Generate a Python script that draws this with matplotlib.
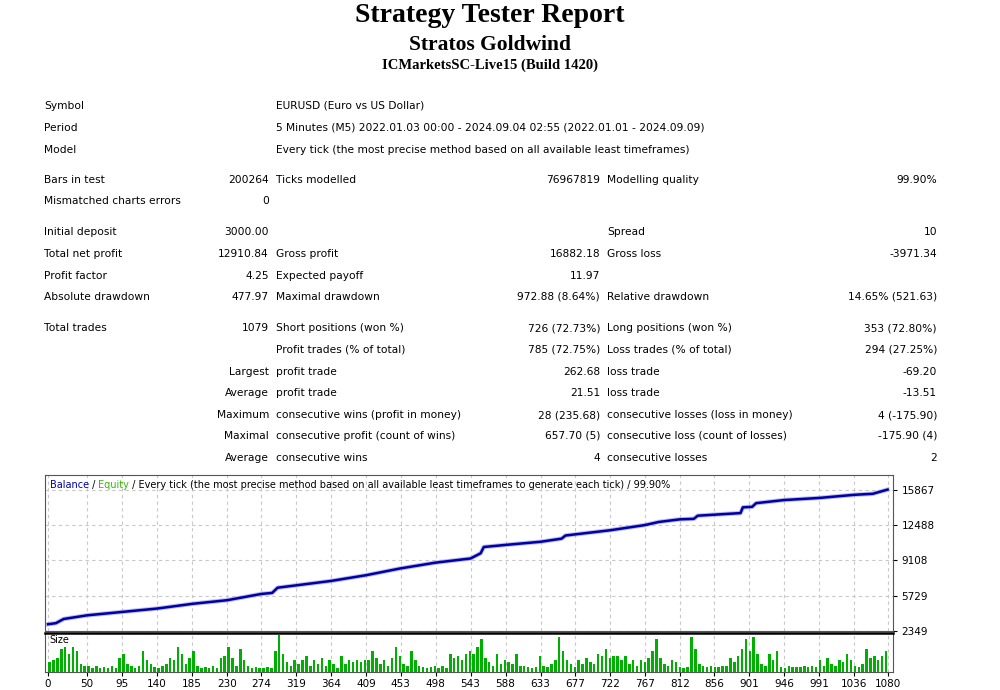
import matplotlib
matplotlib.use("Agg")
import matplotlib.pyplot as plt
import numpy as np
from matplotlib.offsetbox import TextArea, HPacker, AnchoredOffsetbox

# ---------------- data ----------------
bal_trades = [0, 10, 20, 50, 140, 185, 230, 274, 288, 295, 364, 409, 453, 498, 543, 556, 560,
              588, 633, 660, 665, 722, 767, 785, 812, 830, 835, 890, 893, 905, 910, 946, 991,
              1036, 1060, 1079]
bal_values = [3000, 3100, 3500, 3850, 4500, 4950, 5300, 5900, 6000, 6500, 7150, 7700, 8350,
              8900, 9300, 9800, 10400, 10600, 10900, 11200, 11500, 12000, 12500, 12800, 13050,
              13100, 13400, 13650, 14200, 14250, 14600, 14900, 15100, 15400, 15500, 15900]
size_values = [0.25,0.3,0.35,0.55,0.6,0.45,0.6,0.5,0.2,0.15,
               0.15,0.1,0.15,0.1,0.12,0.1,0.15,0.1,0.35,0.45,
               0.2,0.15,0.1,0.15,0.5,0.3,0.2,0.12,0.1,0.15,
               0.2,0.35,0.3,0.6,0.45,0.2,0.35,0.5,0.15,0.1,
               0.12,0.1,0.15,0.1,0.35,0.4,0.6,0.35,0.15,0.55,
               0.3,0.15,0.1,0.12,0.1,0.1,0.12,0.1,0.5,0.9,
               0.45,0.25,0.15,0.3,0.2,0.3,0.4,0.15,0.3,0.2,
               0.35,0.15,0.3,0.2,0.1,0.4,0.2,0.3,0.25,0.3,
               0.25,0.3,0.3,0.5,0.35,0.2,0.3,0.15,0.35,0.6,
               0.4,0.2,0.15,0.5,0.3,0.15,0.12,0.1,0.12,0.15,
               0.1,0.15,0.1,0.45,0.35,0.4,0.3,0.45,0.5,0.45,
               0.6,0.8,0.35,0.25,0.15,0.45,0.2,0.3,0.25,0.2,
               0.45,0.15,0.15,0.12,0.1,0.12,0.4,0.15,0.12,0.2,
               0.3,0.85,0.5,0.3,0.2,0.12,0.3,0.2,0.35,0.25,
               0.2,0.45,0.4,0.55,0.35,0.4,0.4,0.3,0.4,0.2,
               0.3,0.15,0.3,0.25,0.35,0.5,0.8,0.35,0.2,0.15,
               0.3,0.25,0.12,0.1,0.12,0.85,0.55,0.2,0.15,0.12,
               0.15,0.12,0.12,0.15,0.15,0.35,0.25,0.4,0.55,0.8,
               0.5,0.85,0.45,0.2,0.15,0.45,0.3,0.5,0.12,0.1,
               0.15,0.12,0.12,0.12,0.15,0.12,0.15,0.12,0.3,0.15,
               0.35,0.2,0.15,0.3,0.25,0.45,0.3,0.15,0.12,0.2,
               0.55,0.35,0.4,0.3,0.4,0.5]
y_ticks = [2349, 5729, 9108, 12488, 15867]
x_ticks = [0, 50, 95, 140, 185, 230, 274, 319, 364, 409, 453, 498, 543, 588, 633, 677, 722,
           767, 812, 856, 901, 946, 991, 1036, 1080]

rows = [
    (106, [(44, "Symbol", "left"), (276, "EURUSD (Euro vs US Dollar)", "left")]),
    (128, [(44, "Period", "left"), (276, "5 Minutes (M5) 2022.01.03 00:00 - 2024.09.04 02:55 (2022.01.01 - 2024.09.09)", "left")]),
    (150, [(44, "Model", "left"), (276, "Every tick (the most precise method based on all available least timeframes)", "left")]),
    (180, [(44, "Bars in test", "left"), (269, "200264", "right"), (276, "Ticks modelled", "left"),
           (600, "76967819", "right"), (607, "Modelling quality", "left"), (937, "99.90%", "right")]),
    (201, [(44, "Mismatched charts errors", "left"), (269, "0", "right")]),
    (232, [(44, "Initial deposit", "left"), (269, "3000.00", "right"), (607, "Spread", "left"), (937, "10", "right")]),
    (254, [(44, "Total net profit", "left"), (269, "12910.84", "right"), (276, "Gross profit", "left"),
           (600, "16882.18", "right"), (607, "Gross loss", "left"), (937, "-3971.34", "right")]),
    (276, [(44, "Profit factor", "left"), (269, "4.25", "right"), (276, "Expected payoff", "left"), (600, "11.97", "right")]),
    (297, [(44, "Absolute drawdown", "left"), (269, "477.97", "right"), (276, "Maximal drawdown", "left"),
           (600, "972.88 (8.64%)", "right"), (607, "Relative drawdown", "left"), (937, "14.65% (521.63)", "right")]),
    (328, [(44, "Total trades", "left"), (269, "1079", "right"), (276, "Short positions (won %)", "left"),
           (600, "726 (72.73%)", "right"), (607, "Long positions (won %)", "left"), (937, "353 (72.80%)", "right")]),
    (350, [(276, "Profit trades (% of total)", "left"), (600, "785 (72.75%)", "right"),
           (607, "Loss trades (% of total)", "left"), (937, "294 (27.25%)", "right")]),
    (372, [(269, "Largest", "right"), (276, "profit trade", "left"), (600, "262.68", "right"),
           (607, "loss trade", "left"), (937, "-69.20", "right")]),
    (393, [(269, "Average", "right"), (276, "profit trade", "left"), (600, "21.51", "right"),
           (607, "loss trade", "left"), (937, "-13.51", "right")]),
    (415, [(269, "Maximum", "right"), (276, "consecutive wins (profit in money)", "left"), (600, "28 (235.68)", "right"),
           (607, "consecutive losses (loss in money)", "left"), (937, "4 (-175.90)", "right")]),
    (436, [(269, "Maximal", "right"), (276, "consecutive profit (count of wins)", "left"), (600, "657.70 (5)", "right"),
           (607, "consecutive loss (count of losses)", "left"), (937, "-175.90 (4)", "right")]),
    (458, [(269, "Average", "right"), (276, "consecutive wins", "left"), (600, "4", "right"),
           (607, "consecutive losses", "left"), (937, "2", "right")]),
]

# ---------------- figure ----------------
W, H = 1000, 690
fig = plt.figure(figsize=(10, 6.9), dpi=100)
fig.patch.set_facecolor("white")

def fx(px): return px / W
def fy(py): return 1 - py / H

fig.text(0.49, fy(16), "Strategy Tester Report", ha="center", va="center",
         family="Liberation Serif", weight="bold", fontsize=20)
fig.text(0.49, fy(45), "Stratos Goldwind", ha="center", va="center",
         family="Liberation Serif", weight="bold", fontsize=15.5)
fig.text(0.49, fy(65), "ICMarketsSC-Live15 (Build 1420)", ha="center", va="center",
         family="Liberation Serif", weight="bold", fontsize=10.5)

for y, items in rows:
    for x, t, ha in items:
        fig.text(fx(x), fy(y), t, ha=ha, va="center", family="DejaVu Sans", fontsize=7.7)

xlim = (-4, 1086)
ax = fig.add_axes([fx(45), fy(631), fx(848), 156 / H])
ax.plot(bal_trades, bal_values, color="#a0a0e0", lw=3.2, alpha=0.7)
ax.plot(bal_trades, bal_values, color="#0000a8", lw=1.8)
ax.set_xlim(*xlim)
ax.set_ylim(2349, 17300)
ax.set_yticks(y_ticks)
ax.yaxis.tick_right()
ax.tick_params(axis="y", labelsize=7.5, length=3, pad=3)
ax.set_xticks(x_ticks)
ax.tick_params(axis="x", length=0, labelbottom=False)
ax.grid(True, color="#c8c8c8", ls=(0, (3, 3)), lw=0.8)
for s in ax.spines.values():
    s.set_color("#555555")

box = HPacker(children=[
    TextArea("Balance", textprops=dict(color="#0000a8", fontsize=7, family="DejaVu Sans")),
    TextArea(" / ", textprops=dict(color="black", fontsize=7, family="DejaVu Sans")),
    TextArea("Equity", textprops=dict(color="#33bb00", fontsize=7, family="DejaVu Sans")),
    TextArea(" / Every tick (the most precise method based on all available least timeframes to generate each tick) / 99.90%",
             textprops=dict(color="black", fontsize=7, family="DejaVu Sans")),
], align="baseline", pad=0, sep=0)
ax.add_artist(AnchoredOffsetbox(loc="upper left", child=box, pad=0.15, borderpad=0.2, frameon=False))

ax2 = fig.add_axes([fx(45), fy(672), fx(848), 39 / H])
pos = np.arange(len(size_values)) * 5 + 2
ax2.bar(pos, size_values, width=3.2, color="#00b000", linewidth=0)
ax2.set_xlim(*xlim)
ax2.set_ylim(0, 0.95)
ax2.set_yticks([])
ax2.set_xticks(x_ticks)
ax2.set_xticklabels([str(v) for v in x_ticks])
ax2.tick_params(axis="x", labelsize=7.5, length=3, pad=2)
ax2.grid(True, axis="x", color="#c8c8c8", ls=(0, (3, 3)), lw=0.8)
ax2.set_axisbelow(True)
for s in ax2.spines.values():
    s.set_color("#555555")
ax2.spines["top"].set_color("black")
ax2.spines["top"].set_linewidth(1.8)
ax2.text(0.005, 0.95, "Size", transform=ax2.transAxes, ha="left", va="top", fontsize=7)

fig.savefig("out.png", dpi=100, facecolor="white")
